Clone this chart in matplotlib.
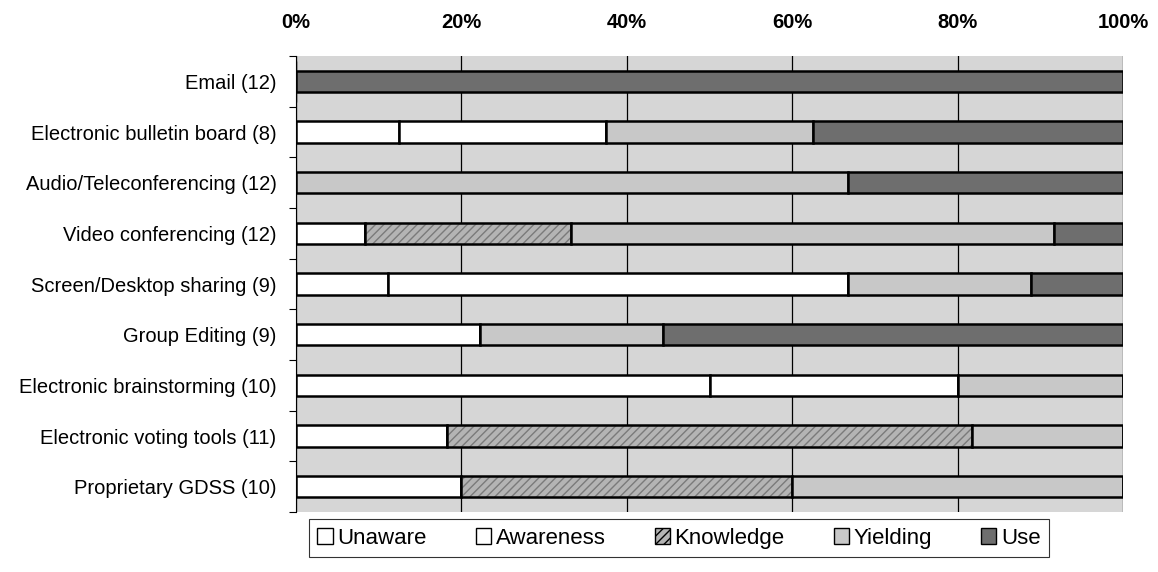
import numpy as np
import matplotlib.pyplot as plt
from matplotlib.ticker import FixedLocator, PercentFormatter

plt.rcParams['font.family'] = ['Liberation Sans', 'DejaVu Sans']

categories = ['Email (12)', 'Electronic bulletin board (8)', 'Audio/Teleconferencing (12)',
              'Video conferencing (12)', 'Screen/Desktop sharing (9)', 'Group Editing (9)',
              'Electronic brainstorming (10)', 'Electronic voting tools (11)',
              'Proprietary GDSS (10)']
series = ['Unaware', 'Awareness', 'Knowledge', 'Yielding', 'Use']

# percent of respondents per stage
unaware   = [0, 12.5, 0, 8.3, 11.1, 22.2, 50, 18.2, 20]
awareness = [0, 25.0, 0, 0, 55.6, 0, 30, 0, 0]
knowledge = [0, 0, 0, 25.0, 0, 0, 0, 63.6, 40]
yielding  = [0, 25.0, 66.7, 58.4, 22.2, 22.2, 20, 18.2, 40]
use       = [100, 37.5, 33.3, 8.3, 11.1, 55.6, 0, 0, 0]

colors = ['white', 'white', '#b4b4b4', '#c8c8c8', '#6e6e6e']
hatches = [None, None, '////', None, None]

fig = plt.figure(figsize=(11.58, 5.72), dpi=100)
ax = fig.add_axes([296 / 1158, 1 - 512 / 572, 827 / 1158, 456 / 572])
ax.set_facecolor('#d6d6d6')

y = np.arange(len(categories))
left = np.zeros(len(categories))
for name, vals, c, h in zip(series, [unaware, awareness, knowledge, yielding, use], colors, hatches):
    vals = np.array(vals)
    if h:
        # hatch in a mid gray, outline drawn separately in black
        ax.barh(y, vals, left=left, height=0.42, color=c, edgecolor='#7a7a7a',
                linewidth=0, hatch=h, zorder=3)
        ax.barh(y, vals, left=left, height=0.42, facecolor='none', edgecolor='black',
                linewidth=1.8, zorder=3)
        ax.barh([0], [0], color=c, edgecolor='black', hatch=h, label=name)
    else:
        ax.barh(y, vals, left=left, height=0.42, color=c, edgecolor='black',
                linewidth=1.8, label=name, zorder=3)
    left += vals

ax.set_xlim(0, 100)
ax.set_ylim(len(categories) - 0.5, -0.5)
ax.set_xticks([0, 20, 40, 60, 80, 100])
ax.xaxis.set_major_formatter(PercentFormatter(decimals=0))
ax.xaxis.tick_top()
ax.tick_params(axis='x', length=0, pad=17, labelsize=14.5)
for lbl in ax.get_xticklabels():
    lbl.set_fontweight('bold')
ax.grid(axis='x', color='black', linewidth=0.9, zorder=1)

ax.set_yticks(y)
ax.set_yticklabels(categories, fontsize=14.5)
ax.yaxis.set_minor_locator(FixedLocator(np.arange(-0.5, len(categories), 1)))
ax.tick_params(axis='y', which='major', length=0, pad=14)
ax.tick_params(axis='y', which='minor', length=5, width=0.8)

for s in ['top', 'right', 'bottom']:
    ax.spines[s].set_visible(False)
ax.spines['left'].set_linewidth(0.8)

leg = fig.legend(loc='upper center', bbox_to_anchor=(679 / 1158, 1 - 512 / 572), ncol=5,
                 fontsize=16, frameon=True, fancybox=False, edgecolor='black',
                 handlelength=0.7, handleheight=0.7, handletextpad=0.2,
                 columnspacing=2.2, borderpad=0.4, borderaxespad=0.3)
leg.get_frame().set_linewidth(0.8)
for p in leg.get_patches():
    p.set_linewidth(1.0)

fig.savefig('out.png', dpi=100)
